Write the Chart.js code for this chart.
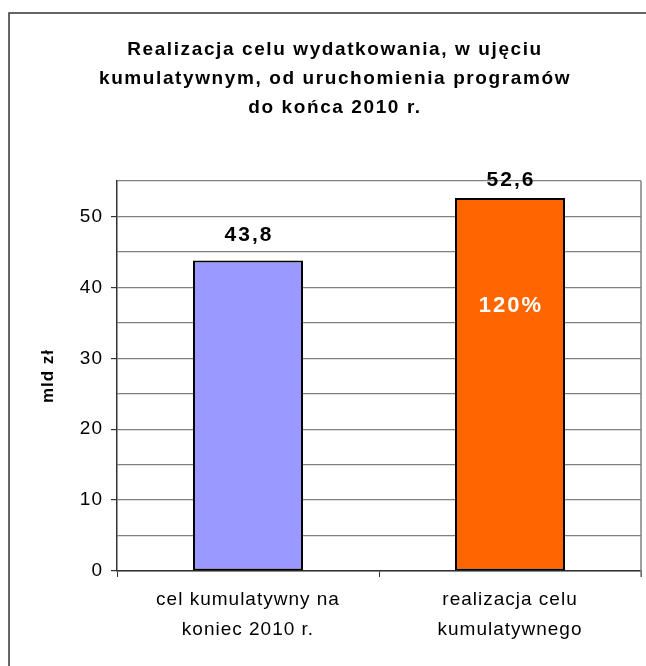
<!DOCTYPE html>
<html>
<head>
<meta charset="utf-8">
<script src="https://cdn.jsdelivr.net/npm/chart.js@4/dist/chart.umd.min.js"></script>
<style>
  html, body { margin: 0; padding: 0; background: #fff; }
  canvas { display: block; }
</style>
</head>
<body>
<canvas id="chart" width="646" height="666"></canvas>
<script>
const titleLines = [
    'Realizacja celu wydatkowania, w ujęciu',
    'kumulatywnym, od uruchomienia programów',
    'do końca 2010 r.'
];
const categories = [
    ['cel kumulatywny na', 'koniec 2010 r.'],
    ['realizacja celu', 'kumulatywnego']
];
const values = [43.8, 52.6];
const valueLabels = ['43,8', '52,6'];
const insideLabels = ['', '120%'];
const barColors = ['#9999FF', '#FF6600'];
const yTicks = [0, 10, 20, 30, 40, 50];
const yMax = 55;
const yStep = 5;
const yTitle = 'mld zł';

const FONT = '"Liberation Sans", Arial, sans-serif';

const framePlugin = {
    id: 'frame',
    beforeDraw(chart) {
        const ctx = chart.ctx;
        ctx.save();
        ctx.fillStyle = '#fff';
        ctx.fillRect(0, 0, chart.width, chart.height);
        // outer chart border (right and bottom fall outside the picture)
        ctx.strokeStyle = '#333';
        ctx.lineWidth = 1.5;
        ctx.strokeRect(9, 13, chart.width + 20, chart.height + 20);
        // title
        ctx.fillStyle = '#000';
        ctx.font = 'bold 19px ' + FONT;
        ctx.textAlign = 'center';
        ctx.textBaseline = 'alphabetic';
        ctx.letterSpacing = '1.6px';
        titleLines.forEach((line, i) => {
            ctx.fillText(line, 335, 55 + i * 29);
        });
        ctx.restore();
        // wider spacing for all axis text, like the original
        ctx.letterSpacing = '1px';
    },
    afterDraw(chart) {
        const ctx = chart.ctx;
        const area = chart.chartArea;
        ctx.save();
        // plot area right border
        ctx.strokeStyle = '#808080';
        ctx.lineWidth = 1.5;
        ctx.beginPath();
        ctx.moveTo(area.right, area.top);
        ctx.lineTo(area.right, area.bottom + 6);
        ctx.stroke();
        ctx.restore();
        ctx.letterSpacing = '0px';
    }
};

const labelPlugin = {
    id: 'barLabels',
    afterDatasetsDraw(chart, args, opts) {
        const ctx = chart.ctx;
        const meta = chart.getDatasetMeta(0);
        ctx.save();
        ctx.textAlign = 'center';
        ctx.textBaseline = 'middle';
        ctx.letterSpacing = '2px';
        meta.data.forEach((bar, i) => {
            ctx.font = 'bold 21px ' + FONT;
            ctx.fillStyle = '#000';
            ctx.fillText(valueLabels[i], bar.x + 1, bar.y - opts.above[i]);
            if (insideLabels[i]) {
                ctx.font = 'bold 22px ' + FONT;
                ctx.fillStyle = '#fff';
                ctx.fillText(insideLabels[i], bar.x + 1, bar.y + opts.inside);
            }
        });
        ctx.restore();
    }
};

new Chart(document.getElementById('chart'), {
    type: 'bar',
    data: {
        labels: categories,
        datasets: [{
            data: values,
            backgroundColor: barColors,
            borderColor: '#000',
            borderWidth: 2,
            borderSkipped: false,
            barPercentage: 0.42,
            categoryPercentage: 1
        }]
    },
    options: {
        responsive: false,
        animation: false,
        devicePixelRatio: 1,
        layout: { padding: { left: 9, top: 181, right: 5, bottom: 0 } },
        plugins: {
            legend: { display: false },
            tooltip: { enabled: false },
            barLabels: { above: [25, 18], inside: 108 }
        },
        scales: {
            x: {
                afterFit(scale) { scale.height = 95; },
                grid: {
                    offset: true,
                    drawOnChartArea: false,
                    tickLength: 6,
                    color: '#333'
                },
                border: { color: '#333', width: 1.5 },
                ticks: {
                    color: '#000',
                    padding: 8,
                    maxRotation: 0,
                    font: { family: FONT, size: 19, lineHeight: '30px' }
                }
            },
            y: {
                min: 0,
                max: yMax,
                afterFit(scale) { scale.width = 108; },
                afterBuildTicks(scale) {
                    const t = [];
                    for (let v = 0; v <= yMax; v += yStep) t.push({ value: v });
                    scale.ticks = t;
                },
                grid: {
                    color: '#808080',
                    lineWidth: 1.2,
                    tickLength: 6,
                    tickColor: (c) => yTicks.includes(c.tick.value) ? '#333' : 'rgba(0,0,0,0)'
                },
                border: { color: '#333', width: 1.5 },
                ticks: {
                    color: '#000',
                    padding: 8,
                    font: { family: FONT, size: 19 },
                    callback: (v) => yTicks.includes(v) ? String(v) : ''
                },
                title: {
                    display: true,
                    text: yTitle,
                    color: '#000',
                    font: { family: FONT, size: 17, weight: 'bold' },
                    padding: { top: 29, bottom: 0 }
                }
            }
        }
    },
    plugins: [framePlugin, labelPlugin]
});
</script>
</body>
</html>
